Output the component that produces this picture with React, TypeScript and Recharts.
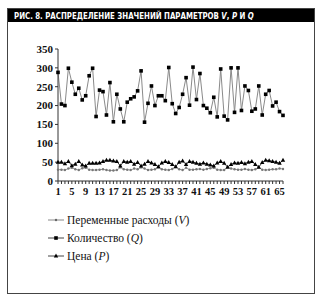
import React from "react";
import { LineChart, Line, XAxis, YAxis } from "recharts";

// Количество (Q)
const qValues = [
    288, 204, 200, 299, 262, 230, 246, 215, 226, 279,
    299, 171, 241, 237, 175, 261, 157, 230, 191, 157,
    209, 218, 223, 239, 292, 156, 206, 252, 200, 226,
    226, 213, 301, 205, 179, 195, 230, 274, 201, 302,
    216, 285, 200, 193, 181, 222, 170, 297, 172, 162,
    300, 182, 300, 187, 252, 240, 185, 191, 252, 175,
    230, 240, 199, 209, 184, 174,
];
// Цена (P)
const pValues = [
    50, 50, 46, 52, 41, 45, 52, 43, 40, 47,
    47, 47, 48, 52, 55, 55, 53, 52, 40, 52,
    50, 52, 45, 49, 40, 45, 52, 48, 44, 38,
    48, 52, 49, 44, 38, 50, 53, 44, 52, 50,
    47, 45, 48, 45, 43, 40, 48, 52, 47, 37,
    44, 48, 47, 49, 46, 50, 52, 44, 37, 49,
    55, 54, 52, 50, 47, 55,
];
// Переменные расходы (V)
const vValues = [
    30, 30, 29, 33, 35, 31, 29, 34, 35, 30,
    29, 29, 30, 31, 29, 28, 28, 29, 36, 31,
    30, 29, 33, 31, 36, 33, 29, 30, 31, 36,
    31, 30, 29, 32, 37, 31, 29, 35, 30, 30,
    31, 32, 30, 32, 34, 35, 30, 29, 29, 37,
    33, 31, 30, 30, 32, 30, 29, 31, 36, 30,
    29, 30, 31, 31, 33, 32,
];
const yTicks = [0, 50, 100, 150, 200, 250, 300, 350];

const data = qValues.map((q, i) => ({ x: i + 1, q, p: pValues[i], v: vValues[i] }));
const xTicks = data.map((d) => d.x);

const serif = "'Liberation Serif', 'DejaVu Serif', serif";

const SquareDot = ({ cx, cy }: any) => (
    <rect x={cx - 1.8} y={cy - 1.8} width={3.6} height={3.6} fill="#000" />
);
const TriDot = ({ cx, cy }: any) => (
    <path d={`M${cx},${cy - 2.4} L${cx + 2.2},${cy + 1.6} L${cx - 2.2},${cy + 1.6} Z`} fill="#000" />
);
const SmallDot = ({ cx, cy }: any) => <circle cx={cx} cy={cy} r={1.2} fill="#777" />;

const XTick = ({ x, y, payload }: any) => {
    if ((payload.value - 1) % 4 !== 0) return null;
    return (
        <text x={x} y={y + 9} textAnchor="middle" fontFamily={serif} fontWeight="bold" fontSize={10.5} fill="#111">
            {payload.value}
        </text>
    );
};

const LegendItem = ({ kind, children }: any) => (
    <div style={{ display: "flex", alignItems: "center", height: 18 }}>
        <svg width={18} height={10} style={{ marginRight: 2 }}>
            <line x1={1} y1={5} x2={17} y2={5} stroke={kind === "v" ? "#888" : "#444"} strokeWidth={1} />
            {kind === "q" && <rect x={7.2} y={3.2} width={3.6} height={3.6} fill="#000" />}
            {kind === "p" && <path d="M9,2.6 L11.2,6.6 L6.8,6.6 Z" fill="#000" />}
            {kind === "v" && <circle cx={9} cy={5} r={1.2} fill="#666" />}
        </svg>
        <span>{children}</span>
    </div>
);

export default function App() {
    return (
        <div
            style={{
                position: "absolute",
                left: 7,
                top: 8,
                width: 308,
                height: 286,
                border: "1px solid #444",
                boxSizing: "border-box",
                background: "#fff",
                overflow: "hidden",
            }}
        >
            <div
                style={{
                    height: 13,
                    background: "#000",
                    color: "#fff",
                    overflow: "hidden",
                    whiteSpace: "nowrap",
                    fontSize: 9.5,
                    lineHeight: "13px",
                }}
            >
                <div
                    style={{
                        fontFamily: "'DejaVu Sans Condensed', 'Liberation Sans', sans-serif",
                        fontWeight: "bold",
                        fontSize: 9.5,
                        lineHeight: "13px",
                        height: 13,
                        marginLeft: 6,
                        transform: "scaleX(0.82)",
                        transformOrigin: "left center",
                    }}
                >
                    РИС. 8. РАСПРЕДЕЛЕНИЕ ЗНАЧЕНИЙ ПАРАМЕТРОВ <i>V</i>, <i>P</i> И <i>Q</i>
                </div>
            </div>
            <div style={{ position: "absolute", left: 0, top: 29 }}>
                <LineChart width={300} height={170} data={data} margin={{ top: 11, right: 25, left: 10, bottom: 7 }}>
                    <XAxis
                        dataKey="x"
                        type="number"
                        domain={[1, 66]}
                        ticks={xTicks}
                        interval={0}
                        tick={<XTick />}
                        tickSize={3}
                        tickLine={{ stroke: "#333" }}
                        axisLine={{ stroke: "#333" }}
                        height={20}
                    />
                    <YAxis
                        domain={[0, 350]}
                        ticks={yTicks}
                        width={40}
                        tickSize={3}
                        tickLine={{ stroke: "#333" }}
                        axisLine={{ stroke: "#333" }}
                        tick={{ fontFamily: serif, fontWeight: "bold", fontSize: 11, fill: "#111" }}
                    />
                    <Line
                        dataKey="q"
                        stroke="#8a8a8a"
                        strokeWidth={1}
                        dot={<SquareDot />}
                        activeDot={false}
                        isAnimationActive={false}
                    />
                    <Line
                        dataKey="v"
                        stroke="#999"
                        strokeWidth={1}
                        dot={<SmallDot />}
                        activeDot={false}
                        isAnimationActive={false}
                    />
                    <Line
                        dataKey="p"
                        stroke="#333"
                        strokeWidth={1}
                        dot={<TriDot />}
                        activeDot={false}
                        isAnimationActive={false}
                    />
                </LineChart>
            </div>
            <div
                style={{
                    position: "absolute",
                    left: 39,
                    top: 202,
                    fontFamily: serif,
                    fontSize: 11.5,
                    color: "#111",
                }}
            >
                <LegendItem kind="v">Переменные расходы (<i>V</i>)</LegendItem>
                <LegendItem kind="q">Количество (<i>Q</i>)</LegendItem>
                <LegendItem kind="p">Цена (<i>P</i>)</LegendItem>
            </div>
        </div>
    );
}
